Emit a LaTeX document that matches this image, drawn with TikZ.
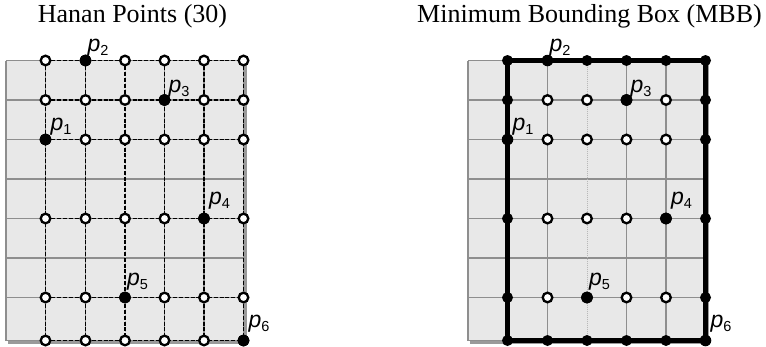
\documentclass[tikz,border=0pt]{standalone}
\usepackage{fontspec}
\setmainfont{Liberation Serif}
\setsansfont{Liberation Sans}
\definecolor{bgfill}{HTML}{E8E8E8}
\definecolor{gridgray}{HTML}{8E8E8E}
\definecolor{shadowgray}{HTML}{9A9A9A}
\definecolor{lightdot}{HTML}{B8B8B8}
\tikzset{
  hollow/.style={circle, draw=black, fill=white, line width=2.3pt, minimum size=9.6pt, inner sep=0pt},
  soliddot/.style={circle, fill=black, minimum size=11.5pt, inner sep=0pt},
  edgedot/.style={circle, fill=black, minimum size=11pt, inner sep=0pt},
  hanan/.style={black, line width=1.8pt, dash pattern=on 4pt off 1.8pt},
  mbb/.style={black, line width=4.8pt, line join=miter},
  bggrid/.style={gridgray, line width=1.6pt},
  bgdotted/.style={lightdot, line width=1pt, dash pattern=on 1pt off 1pt},
  titletext/.style={font=\fontsize{26}{30}\selectfont, inner sep=0pt, anchor=base},
  plabel/.style={anchor=south west, inner sep=0pt, font=\sffamily}
}
\newcommand{\plab}[1]{\fontsize{23}{23}\selectfont\textit{p}\raisebox{-4pt}{\fontsize{14.5}{14.5}\selectfont #1}}
\begin{document}
\begin{tikzpicture}[x=1pt,y=-1pt]
\useasboundingbox (0,0) rectangle (766,346);

% titles
\node[titletext] (t1) at (132.5,22) {Hanan Points (30)};
\node[titletext] (t2) at (589.5,22) {Minimum Bounding Box (MBB)};

\foreach \ox/\pn in {0/L,462/R}{
  \begin{scope}[xshift=\ox pt]
    % shadow and background
    \fill[shadowgray] (8,62.5) rectangle (246.5,343.5);
    \fill[bgfill] (6,60.5) rectangle (243.5,340.5);
    \foreach \yy in {60.5,100,139.5,179,218.5,258,297.5,340.5}
      \draw[bggrid] (6,\yy) -- (243.5,\yy);
    \foreach \xx in {6,45.5,85.5,164.5,204,243.5}
      \draw[bggrid] (\xx,60.5) -- (\xx,340.5);
    \draw[bgdotted] (125,60.5) -- (125,340.5);
    % point coordinates
    \foreach \c/\xx in {1/45.5,2/85.5,3/125,4/164.5,5/204,6/243.5}
      \foreach \r/\yy in {1/60.5,2/100,3/139.5,4/218.5,5/297.5,6/340.5}
        \coordinate (\pn-\c-\r) at (\xx,\yy);
  \end{scope}
}

% Hanan grid lines (left)
\foreach \r in {1,...,6}
  \draw[hanan] (L-1-\r) -- (L-6-\r);
\foreach \c in {1,...,6}
  \draw[hanan] (L-\c-1) -- (L-\c-6);

% interior lines (right)
\foreach \r in {2,...,5}
  \draw[bggrid] (R-1-\r) -- (R-6-\r);
\foreach \c in {2,4,5}
  \draw[bggrid] (R-\c-1) -- (R-\c-6);
\draw[mbb] (R-1-1) rectangle (R-6-6);

% left points
\foreach \c in {1,...,6}
  \foreach \r in {1,...,6}{
    \node[hollow] (nL-\c-\r) at (L-\c-\r) {};
  }
% right points
\foreach \c in {1,...,6}
  \foreach \r in {1,...,6}{
    \pgfmathtruncatemacro{\edge}{(\c==1)||(\c==6)||(\r==1)||(\r==6)}
    \ifnum\edge=1
      \node[edgedot] (nR-\c-\r) at (R-\c-\r) {};
    \else
      \node[hollow] (nR-\c-\r) at (R-\c-\r) {};
    \fi
  }

% the six terminals, both panels
\foreach \pn in {L,R}{
  \node[soliddot] (\pn p1) at (\pn-1-3) {};
  \node[soliddot] (\pn p2) at (\pn-2-1) {};
  \node[soliddot] (\pn p3) at (\pn-4-2) {};
  \node[soliddot] (\pn p4) at (\pn-5-4) {};
  \node[soliddot] (\pn p5) at (\pn-3-5) {};
  \node[soliddot] (\pn p6) at (\pn-6-6) {};
  \node[plabel] (\pn l1) at ([xshift=5pt,yshift=4pt]\pn-1-3) {\plab{1}};
  \node[plabel] (\pn l2) at ([xshift=2pt,yshift=4pt]\pn-2-1) {\plab{2}};
  \node[plabel] (\pn l3) at ([xshift=4pt,yshift=3pt]\pn-4-2) {\plab{3}};
  \node[plabel] (\pn l4) at ([xshift=5pt,yshift=9pt]\pn-5-4) {\plab{4}};
  \node[plabel] (\pn l5) at ([xshift=2pt,yshift=7pt]\pn-3-5) {\plab{5}};
  \node[plabel] (\pn l6) at ([xshift=5pt,yshift=8pt]\pn-6-6) {\plab{6}};
}
\end{tikzpicture}
\end{document}
